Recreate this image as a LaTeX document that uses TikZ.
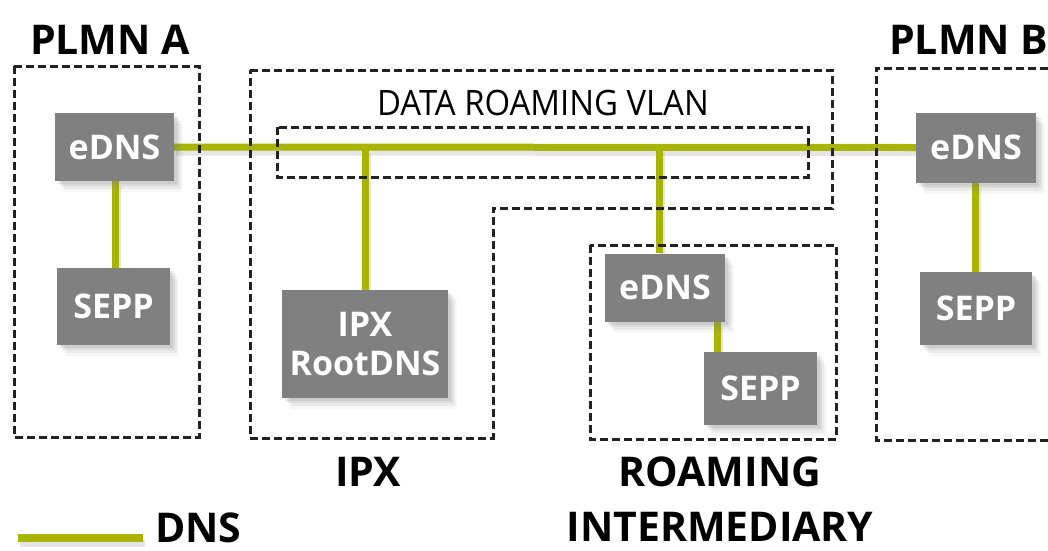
\documentclass[tikz,border=0pt]{standalone}
\usepackage{fontspec}
\setmainfont{Open Sans}
\newfontfamily\condfont[FakeStretch=0.94]{Open Sans}
\usetikzlibrary{shadows}
\definecolor{boxgray}{HTML}{808080}
\definecolor{dnsgreen}{HTML}{A8B400}
\definecolor{dashgray}{HTML}{222222}
\pgfdeclarelayer{bg}
\pgfdeclarelayer{mid}
\pgfsetlayers{bg,mid,main}
\tikzset{
  box/.style={fill=boxgray, text=white, font=\bfseries\fontsize{34}{39}\selectfont,
    inner sep=0pt, align=center,
    drop shadow={opacity=0.07, shadow xshift=9pt, shadow yshift=-11pt},
    drop shadow={opacity=0.10, shadow xshift=7pt, shadow yshift=-8pt},
    drop shadow={opacity=0.14, shadow xshift=5pt, shadow yshift=-5pt},
    drop shadow={opacity=0.16, shadow xshift=3pt, shadow yshift=-3pt}},
  dnsline/.style={draw=dnsgreen, line width=7pt,
    preaction={draw=black, draw opacity=0.10, line width=7pt, transform canvas={shift={(2pt,-5pt)}}}},
  zone/.style={draw=dashgray, line width=3pt, dash pattern=on 8pt off 4pt},
  title/.style={font=\bfseries\fontsize{41}{50}\selectfont, text=black, inner sep=0pt},
  vlantext/.style={font=\condfont\fontsize{35}{40}\selectfont, text=black, inner sep=0pt},
}
\begin{document}
\begin{tikzpicture}[x=1pt,y=-1pt]
\useasboundingbox (0,0) rectangle (1048,550);
% boxes
\node[box, minimum width=119pt, minimum height=68pt] (eA) at (114.5,147) {eDNS};
\node[box, minimum width=113pt, minimum height=77pt] (sA) at (113.5,306.5) {SEPP};
\node[box, minimum width=166pt, minimum height=108pt] (rdns) at (365,344) {IPX\\RootDNS};
\node[box, minimum width=120pt, minimum height=68pt] (eRI) at (665,287.5) {eDNS};
\node[box, minimum width=113pt, minimum height=73pt] (sRI) at (760.5,388.5) {SEPP};
\node[box, minimum width=120pt, minimum height=70pt] (eB) at (976,147.5) {eDNS};
\node[box, minimum width=112pt, minimum height=73pt] (sB) at (976,308.5) {SEPP};
\coordinate (tapR) at (365,148);
\coordinate (tapI) at (659,148);
\coordinate (xRI) at (717,0);
\coordinate (xB) at (975,0);
\coordinate (xA) at (115,0);
% titles
\node[title] (plmnA) at (110,40) {PLMN A};
\node[title, anchor=west] (plmnB) at (889,40) {PLMN B};
\node[title] (ipx) at (368,472) {IPX};
\node[title] (ri1) at (720,472) {ROAMING};
\node[title] (ri2) at (720,527) {INTERMEDIARY};
\node[vlantext] (vlan) at (543,103) {DATA ROAMING VLAN};
\node[title, anchor=west] (dnslbl) at (155,528) {DNS};
\coordinate (legA) at (18,538);
\coordinate (legB) at (143,538);
% DNS lines
\begin{pgfonlayer}{bg}
  \draw[dnsline] (eA.east) -- (eB.west);
  \draw[dnsline] (eA.south -| xA) -- (sA.north -| xA);
  \draw[dnsline] (tapR) -- (rdns.north -| tapR);
  \draw[dnsline] (tapI) -- (eRI.north -| tapI);
  \draw[dnsline] (eRI.south -| xRI) -- (sRI.north -| xRI);
  \draw[dnsline] (eB.south -| xB) -- (sB.north -| xB);
  \draw[dnsline, line width=8pt] (legA) -- (legB);
\end{pgfonlayer}
% zones
\begin{pgfonlayer}{mid}
  \draw[zone] (14,66) rectangle (199,437);
  \draw[zone] (250,70) -- (832,70) -- (832,208) -- (493,208) -- (493,438) -- (250,438) -- cycle;
  \draw[zone] (277,127) rectangle (808,177);
  \draw[zone] (590,245) rectangle (836,439);
  \draw[zone] (1060,68) -- (876,68) -- (876,440) -- (1060,440);
\end{pgfonlayer}
\end{tikzpicture}
\end{document}
